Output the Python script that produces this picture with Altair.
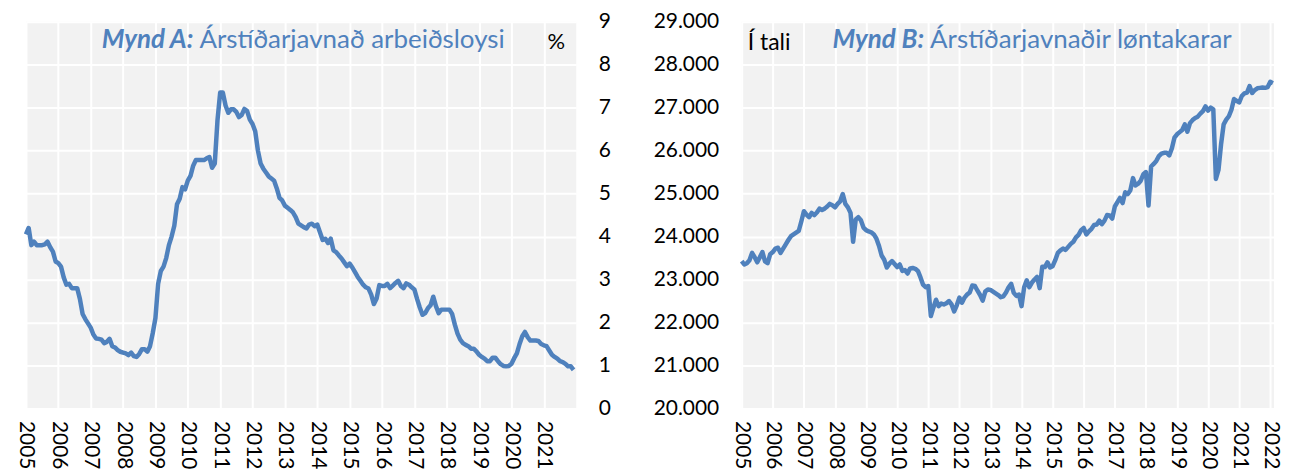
import altair as alt
import pandas as pd

# ---- data -------------------------------------------------------------
start_year = 2005

unemployment = [
    # 2005
    4.05, 4.2, 3.8, 3.88, 3.8, 3.8, 3.8, 3.82, 3.88, 3.75, 3.65, 3.42,
    # 2006
    3.38, 3.3, 3.05, 2.88, 2.9, 2.8, 2.8, 2.8, 2.55, 2.2, 2.08, 1.98,
    # 2007
    1.88, 1.72, 1.63, 1.62, 1.6, 1.52, 1.55, 1.62, 1.45, 1.42, 1.36, 1.32,
    # 2008
    1.3, 1.28, 1.24, 1.3, 1.22, 1.2, 1.27, 1.38, 1.38, 1.32, 1.45, 1.75,
    # 2009
    2.1, 2.9, 3.2, 3.3, 3.5, 3.8, 4.0, 4.25, 4.75, 4.88, 5.15, 5.1,
    # 2010
    5.3, 5.41, 5.65, 5.78, 5.78, 5.78, 5.78, 5.82, 5.85, 5.6, 5.7, 6.7,
    # 2011
    7.35, 7.35, 7.05, 6.88, 6.96, 6.96, 6.9, 6.78, 6.83, 6.97, 6.92, 6.72,
    # 2012
    6.62, 6.45, 6.0, 5.7, 5.58, 5.49, 5.4, 5.35, 5.3, 5.12, 4.9, 4.84,
    # 2013
    4.72, 4.67, 4.62, 4.56, 4.45, 4.3, 4.26, 4.22, 4.19, 4.28, 4.3, 4.24,
    # 2014
    4.28, 4.1, 3.92, 3.95, 3.85, 3.95, 3.68, 3.64, 3.56, 3.49, 3.4, 3.31,
    # 2015
    3.37, 3.28, 3.17, 3.06, 2.97, 2.88, 2.82, 2.79, 2.65, 2.43, 2.56, 2.87,
    # 2016
    2.85, 2.85, 2.9, 2.8, 2.86, 2.92, 2.97, 2.85, 2.8, 2.91, 2.88, 2.82,
    # 2017
    2.77, 2.55, 2.35, 2.18, 2.22, 2.33, 2.4, 2.6, 2.38, 2.22, 2.3, 2.3,
    # 2018
    2.3, 2.3, 2.2, 1.95, 1.74, 1.6, 1.52, 1.48, 1.45, 1.39, 1.39, 1.33,
    # 2019
    1.25, 1.2, 1.16, 1.1, 1.1, 1.18, 1.18, 1.1, 1.03, 0.99, 0.98, 0.99,
    # 2020
    1.04, 1.17, 1.28, 1.5, 1.68, 1.78, 1.66, 1.58, 1.58, 1.58, 1.57, 1.5,
    # 2021
    1.47, 1.45, 1.35, 1.25, 1.2, 1.16, 1.1, 1.08, 1.04, 0.98, 0.98, 0.9,
]

employees = [
    # 2005
    23430, 23350, 23380, 23450, 23620, 23520, 23400, 23520, 23640, 23420, 23380, 23590,
    # 2006
    23640, 23720, 23740, 23620, 23720, 23820, 23920, 24010, 24050, 24090, 24130, 24350,
    # 2007
    24590, 24510, 24450, 24550, 24500, 24560, 24650, 24620, 24650, 24700, 24760, 24730,
    # 2008
    24680, 24760, 24820, 24990, 24760, 24680, 24550, 23880, 24400, 24450, 24380, 24210,
    # 2009
    24150, 24120, 24100, 24050, 23950, 23780, 23560, 23460, 23280, 23370, 23430, 23360,
    # 2010
    23290, 23350, 23200, 23220, 23140, 23260, 23270, 23250, 23200, 23050, 22880, 22820,
    # 2011
    22850, 22150, 22350, 22530, 22380, 22440, 22420, 22450, 22500, 22420, 22260, 22400,
    # 2012
    22580, 22460, 22580, 22650, 22700, 22860, 22850, 22740, 22640, 22510, 22720, 22770,
    # 2013
    22760, 22720, 22680, 22640, 22590, 22610, 22700, 22820, 22900, 22690, 22620, 22650,
    # 2014
    22380, 22820, 22980, 22820, 22930, 23000, 23060, 22800, 23300, 23290, 23400, 23280,
    # 2015
    23310, 23450, 23620, 23680, 23720, 23690, 23760, 23830, 23880, 23980, 24040, 24150,
    # 2016
    24200, 24050, 24120, 24180, 24270, 24280, 24370, 24290, 24370, 24500, 24490, 24420,
    # 2017
    24700, 24800, 24900, 24780, 25030, 24990, 25080, 25360, 25190, 25230, 25300, 25450,
    # 2018
    25500, 24720, 25630, 25690, 25760, 25870, 25930, 25950, 25950, 25890, 26050, 26300,
    # 2019
    26380, 26430, 26480, 26610, 26440, 26640, 26710, 26760, 26790, 26860, 26920, 27030,
    # 2020
    26930, 27000, 26960, 25340, 25550, 26150, 26610, 26720, 26800, 26950, 27200, 27160,
    # 2021
    27120, 27270, 27330, 27350, 27500, 27340, 27410, 27450, 27460, 27470, 27460, 27480,
    # 2022
    27600, 27570,
]

years_a = list(range(2005, 2022))
years_b = list(range(2005, 2023))
ticks_a = list(range(0, 10))
ticks_b = list(range(20000, 30000, 1000))

df_a = pd.DataFrame({"t": [start_year + i / 12 for i in range(len(unemployment))],
                     "v": unemployment})
df_b = pd.DataFrame({"t": [start_year + i / 12 for i in range(len(employees))],
                     "v": employees})

# ---- style ------------------------------------------------------------
BLUE = "#4f81bd"
FONT = "Lato"
W_A, W_B, H = 552, 534, 388


def text_layer(txt, x, y, color, size, weight="normal", style="normal", align="left"):
    return alt.Chart(pd.DataFrame({"s": [txt]})).mark_text(
        align=align, baseline="alphabetic", font=FONT, fontSize=size,
        fontWeight=weight, fontStyle=style, color=color,
    ).encode(text="s:N", x=alt.value(x), y=alt.value(y))


line_a = alt.Chart(df_a).mark_line(color=BLUE, strokeWidth=4.5, strokeJoin="round").encode(
    x=alt.X("t:Q", title=None,
            scale=alt.Scale(domain=[2005, 2022], nice=False, zero=False),
            axis=alt.Axis(values=years_a, format="d", labelAngle=90, labelPadding=12)),
    y=alt.Y("v:Q", title=None,
            scale=alt.Scale(domain=[0, 9], nice=False),
            axis=alt.Axis(orient="right", values=ticks_a, labelPadding=22)),
)

left = alt.layer(
    line_a,
    text_layer("Mynd A:", 168, 26, BLUE, 26, weight="bold", style="italic", align="right"),
    text_layer("Árstíðarjavnað arbeiðsloysi", 174, 26, BLUE, 26),
    text_layer("%", 532, 27, "black", 22, align="center"),
).properties(width=W_A, height=H)

line_b = alt.Chart(df_b).mark_line(color=BLUE, strokeWidth=4.5, strokeJoin="round").encode(
    x=alt.X("t:Q", title=None,
            scale=alt.Scale(domain=[2005, 2022.12], nice=False, zero=False),
            axis=alt.Axis(values=years_b, format="d", labelAngle=90, labelPadding=12)),
    y=alt.Y("v:Q", title=None,
            scale=alt.Scale(domain=[20000, 29000], nice=False, zero=False),
            axis=alt.Axis(orient="left", values=ticks_b, labelPadding=23,
                          labelExpr="replace(format(datum.value, ',d'), ',', '.')")),
)

right = alt.layer(
    line_b,
    text_layer("Í tali", 6, 28, "black", 23),
    text_layer("Mynd B:", 183, 26, BLUE, 26, weight="bold", style="italic", align="right"),
    text_layer("Árstíðarjavnaðir løntakarar", 189, 26, BLUE, 26),
).properties(width=W_B, height=H)

chart = alt.hconcat(left, right, spacing=42).properties(
    padding={"left": 8, "top": 2, "right": 3, "bottom": 0}
).configure_view(
    fill="#f2f2f2", stroke=None
).configure_axis(
    grid=True, gridColor="white", gridWidth=2, domain=False, ticks=False,
    labelFont=FONT, labelFontSize=21, labelColor="black",
)

chart.save("out.html", embed_options={"renderer": "svg", "actions": False})
